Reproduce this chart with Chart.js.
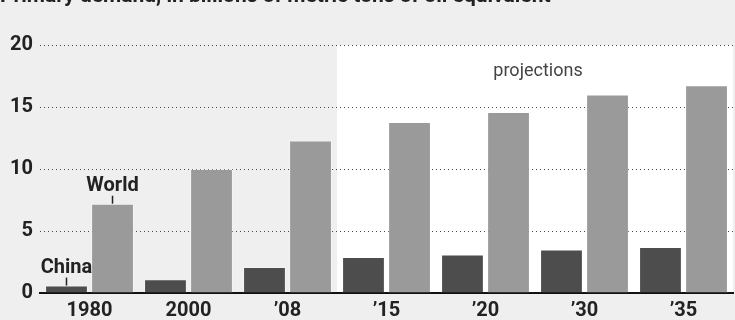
<!DOCTYPE html>
<html>
<head>
<meta charset="utf-8">
<script src="https://cdn.jsdelivr.net/npm/chart.js@4/dist/chart.umd.min.js"></script>
<style>
html, body { margin: 0; padding: 0; background: #efefef; }
#wrap { position: relative; width: 735px; height: 320px; overflow: hidden; }
</style>
</head>
<body>
<div id="wrap"><canvas id="chart" width="735" height="320"></canvas></div>
<script>
// data
const titleText = 'Primary demand, in billions of metric tons of oil equivalent';
const years = ['1980', '2000', '\u201908', '\u201915', '\u201920', '\u201930', '\u201935'];
const china = [0.6, 1.1, 2.1, 2.9, 3.1, 3.5, 3.7];
const world = [7.2, 10.0, 12.3, 13.8, 14.6, 16.0, 16.75];
const yTicks = [0, 5, 10, 15, 20];
const firstProjection = 3; // index of '15
const projLabel = 'projections';

const family = 'Roboto, "DejaVu Sans Condensed", sans-serif';

const projections = {
    id: 'projections',
    beforeDraw(chart) {
        const ctx = chart.ctx, area = chart.chartArea;
        const x = chart.scales.x, y = chart.scales.y;
        const left = (x.getPixelForValue(firstProjection - 1) + x.getPixelForValue(firstProjection)) / 2;
        const top = y.getPixelForValue(yTicks[yTicks.length - 1]);
        ctx.save();
        ctx.fillStyle = '#ffffff';
        ctx.fillRect(left, top, area.right - left, area.bottom - top);
        ctx.fillStyle = '#444';
        ctx.font = '18px ' + family;
        ctx.textAlign = 'center';
        ctx.textBaseline = 'alphabetic';
        ctx.fillText(projLabel, (left + area.right) / 2 + 3, top + 31);
        ctx.restore();
    }
};

const callouts = {
    id: 'callouts',
    afterDatasetsDraw(chart) {
        const ctx = chart.ctx;
        ctx.save();
        ctx.strokeStyle = '#222';
        ctx.lineWidth = 1.5;
        ctx.fillStyle = '#222';
        ctx.font = 'bold 20px ' + family;
        ctx.textAlign = 'center';
        ctx.textBaseline = 'alphabetic';
        chart.data.datasets.forEach((ds, i) => {
            const bar = chart.getDatasetMeta(i).data[0];
            ctx.beginPath();
            ctx.moveTo(bar.x, bar.y - 8);
            ctx.lineTo(bar.x, bar.y);
            ctx.stroke();
            ctx.fillText(ds.label, bar.x, bar.y - 13);
        });
        ctx.restore();
    },
    afterDraw(chart) {
        const ctx = chart.ctx;
        ctx.save();
        ctx.fillStyle = '#222';
        ctx.font = 'bold 21px ' + family;
        ctx.textAlign = 'left';
        ctx.textBaseline = 'alphabetic';
        ctx.fillText(titleText, 0, 2);
        ctx.restore();
    }
};

new Chart(document.getElementById('chart'), {
    type: 'bar',
    data: {
        labels: years,
        datasets: [{
            label: 'China',
            data: china,
            backgroundColor: '#4d4d4d',
            borderColor: 'rgba(255,255,255,0.3)',
            borderWidth: 1,
            categoryPercentage: 0.93,
            barPercentage: 0.93
        }, {
            label: 'World',
            data: world,
            backgroundColor: '#9a9a9a',
            borderColor: 'rgba(255,255,255,0.3)',
            borderWidth: 1,
            categoryPercentage: 0.93,
            barPercentage: 0.93
        }]
    },
    options: {
        responsive: false,
        animation: false,
        devicePixelRatio: 1,
        layout: { padding: { top: 45, right: 2, left: 0, bottom: 0 } },
        plugins: {
            legend: { display: false },
            tooltip: { enabled: false }
        },
        scales: {
            x: {
                grid: { display: false, drawTicks: false },
                border: { display: true, color: '#111', width: 2 },
                ticks: {
                    color: '#222',
                    padding: 6,
                    font: { family: family, size: 20, weight: 'bold' }
                },
                afterFit(scale) { scale.height = 27; }
            },
            y: {
                min: 0,
                max: 20,
                afterBuildTicks(scale) { scale.ticks = yTicks.map(v => ({ value: v })); },
                grid: {
                    drawTicks: false,
                    lineWidth: 1,
                    color: c => c.tick && c.tick.value === 0 ? 'rgba(0,0,0,0)' : '#444'
                },
                border: { display: false, dash: [1, 3] },
                ticks: {
                    color: '#222',
                    padding: 7,
                    font: { family: family, size: 20, weight: 'bold' }
                },
                afterFit(scale) { scale.width = 40; }
            }
        }
    },
    plugins: [projections, callouts]
});
</script>
</body>
</html>
